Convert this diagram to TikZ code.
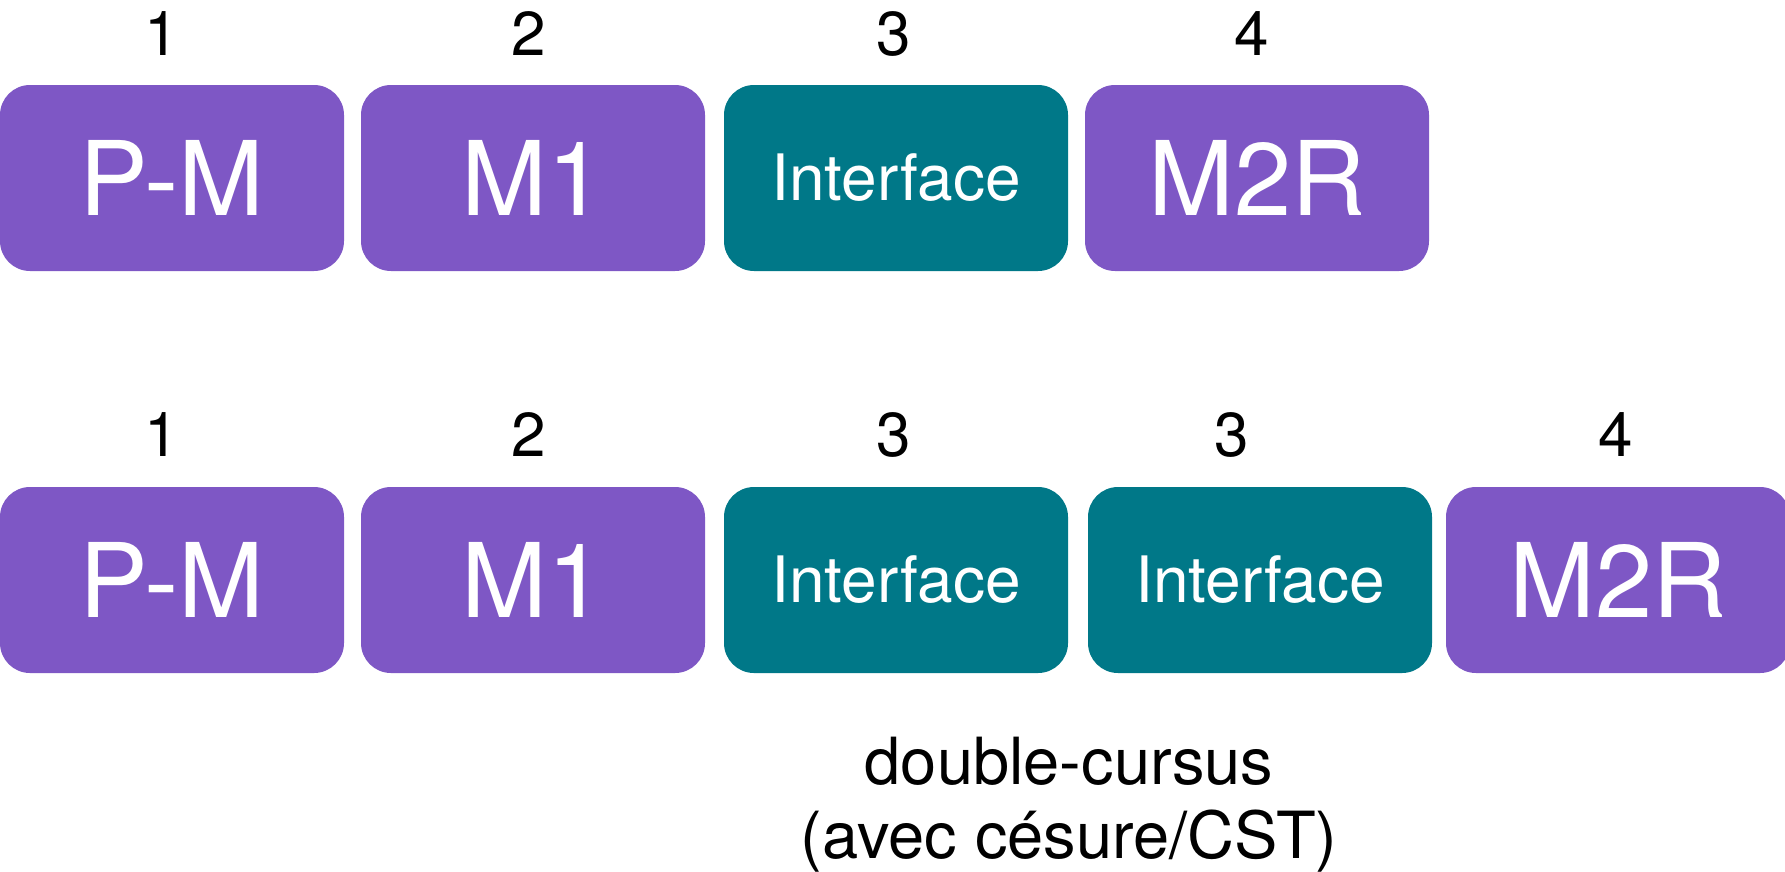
\documentclass[tikz,border=0pt]{standalone}
\usepackage{fontspec}
\setmainfont{TeX Gyre Heros}
\definecolor{cpurple}{HTML}{7E57C5}
\definecolor{cteal}{HTML}{007888}
\begin{document}
\begin{tikzpicture}[x=1pt,y=-1pt,
  box/.style={minimum width=344pt,minimum height=186pt,rounded corners=30pt,inner sep=0pt,text=white},
  pbox/.style={box,fill=cpurple,font=\fontsize{103}{110}\selectfont},
  tbox/.style={box,fill=cteal,font=\fontsize{64}{70}\selectfont},
  num/.style={inner sep=0pt,font=\fontsize{62}{66}\selectfont,text=black},
  note/.style={inner sep=0pt,align=center,font=\fontsize{65}{74}\selectfont,text=black}]
\useasboundingbox (0,0) rectangle (1785,871);
% top row
\node[num] (n1) at (162,34) {1};
\node[num] (n2) at (529,34) {2};
\node[num] (n3) at (894,34) {3};
\node[num] (n4) at (1252,34) {4};
\node[pbox] (a1) at (172,178) {\raisebox{-2pt}{P-M}};
\node[pbox] (a2) at (533,178) {\raisebox{-2pt}{M1}};
\node[tbox] (a3) at (896,178) {\raisebox{-2pt}{Interface}};
\node[pbox] (a4) at (1257,178) {\raisebox{-2pt}{M2R}};
% bottom row
\node[num] (m1) at (162,435) {1};
\node[num] (m2) at (529,435) {2};
\node[num] (m3) at (894,435) {3};
\node[num] (m4) at (1232,435) {3};
\node[num] (m5) at (1616,435) {4};
\node[pbox] (b1) at (172,580) {\raisebox{-2pt}{P-M}};
\node[pbox] (b2) at (533,580) {\raisebox{-2pt}{M1}};
\node[tbox] (b3) at (896,580) {\raisebox{-2pt}{Interface}};
\node[tbox] (b4) at (1260,580) {\raisebox{-2pt}{Interface}};
\node[pbox] (b5) at (1618,580) {\raisebox{-2pt}{M2R}};
\node[note,anchor=north] (lbl) at (1069,737) {double-cursus\\(avec césure/CST)};
\end{tikzpicture}
\end{document}
